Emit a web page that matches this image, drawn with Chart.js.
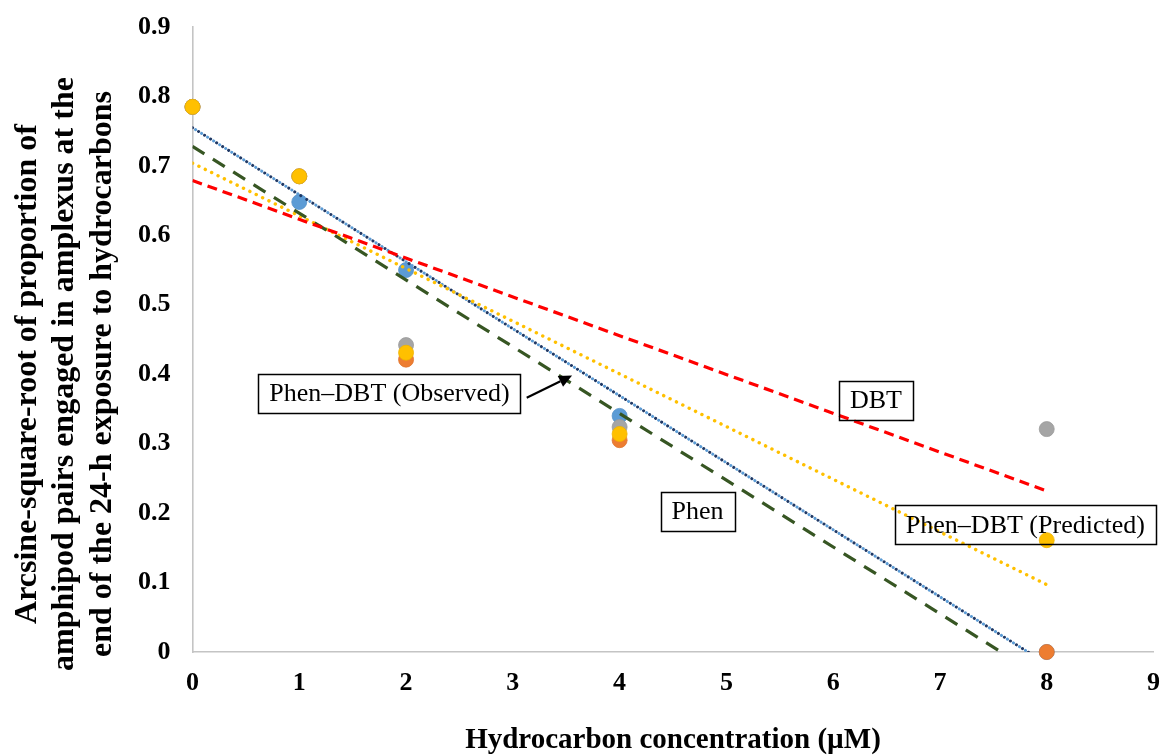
<!DOCTYPE html>
<html>
<head>
<meta charset="utf-8">
<script src="https://cdn.jsdelivr.net/npm/chart.js@4.4.1/dist/chart.umd.min.js"></script>
<style>
  html, body { margin: 0; padding: 0; background: #fff; }
  #wrap { width: 1163px; height: 755px; }
</style>
</head>
<body>
<div id="wrap"><canvas id="chart" width="1163" height="755"></canvas></div>
<script>
const concentrations = [0, 1, 2, 4, 8];
const phenValues = [0.785, 0.648, 0.550, 0.340, 0.000];
const observedValues = [0.785, 0.685, 0.421, 0.305, 0.000];
const dbtValues = [0.785, 0.685, 0.442, 0.324, 0.321];
const predictedValues = [0.785, 0.685, 0.431, 0.314, 0.161];

// linear trend lines, value at each end of the x range
const trendX = [0, 8];
const phenTrend = [0.755, -0.017];
const observedTrend = [0.728, -0.041];
const dbtTrend = [0.679, 0.232];
const predictedTrend = [0.704, 0.097];

const xTicks = [0, 1, 2, 3, 4, 5, 6, 7, 8, 9];
const yTicks = [0, 0.1, 0.2, 0.3, 0.4, 0.5, 0.6, 0.7, 0.8, 0.9];

const yTitleLines = [
  'Arcsine-square-root of proportion of',
  'amphipod pairs engaged in amplexus at the',
  'end of the 24-h exposure to hydrocarbons'
];

const labelBoxes = [
  { text: 'Phen\u2013DBT (Observed)', x: 1.845, y: 0.3725 },
  { text: 'Phen', x: 4.73, y: 0.203 },
  { text: 'DBT', x: 6.40, y: 0.362 },
  { text: 'Phen\u2013DBT (Predicted)', x: 7.80, y: 0.183 }
];
const arrow = { from: [3.13, 0.366], to: [3.555, 0.398] };

const SERIF = '"Liberation Serif", "Times New Roman", serif';

const pairs = (xs, ys) => xs.map((x, i) => ({ x, y: ys[i] }));

function pointSet(label, values, color, edge, order) {
  return {
    type: 'scatter',
    label,
    data: pairs(concentrations, values),
    backgroundColor: color,
    borderColor: edge,
    borderWidth: 0.8,
    pointRadius: 7.5,
    clip: false,
    order
  };
}

function trendSet(label, values, color, width, dash, cap, offset) {
  return {
    type: 'line',
    label,
    data: pairs(trendX, values),
    borderColor: color,
    borderWidth: width,
    borderDash: dash,
    borderDashOffset: offset || 0,
    borderCapStyle: cap,
    pointRadius: 0,
    fill: false,
    order: 0
  };
}

// vertical axis title, three rotated lines
const yTitlePlugin = {
  id: 'yTitle',
  afterDraw(chart) {
    const { ctx } = chart;
    const centers = [27.5, 65, 102.5];
    ctx.save();
    ctx.font = 'bold 32px ' + SERIF;
    ctx.fillStyle = '#000';
    ctx.textAlign = 'center';
    ctx.textBaseline = 'middle';
    yTitleLines.forEach((line, i) => {
      ctx.save();
      ctx.translate(centers[i], 374);
      ctx.rotate(-Math.PI / 2);
      ctx.fillText(line, 0, 0);
      ctx.restore();
    });
    ctx.restore();
  }
};

const boxPlugin = {
  id: 'boxLabels',
  afterDraw(chart) {
    const { ctx, scales: { x, y } } = chart;
    ctx.save();
    ctx.font = '26px ' + SERIF;
    ctx.textAlign = 'center';
    ctx.textBaseline = 'middle';
    ctx.strokeStyle = '#000';
    ctx.fillStyle = '#000';
    ctx.lineWidth = 1.5;
    labelBoxes.forEach((b) => {
      const cx = x.getPixelForValue(b.x);
      const cy = y.getPixelForValue(b.y);
      const w = ctx.measureText(b.text).width + 22;
      const h = 39;
      ctx.strokeRect(Math.round(cx - w / 2) + 0.5, Math.round(cy - h / 2) + 0.5, Math.round(w), h);
      ctx.fillText(b.text, cx, cy + 1);
    });

    // arrow from the observed label to its line
    const x0 = x.getPixelForValue(arrow.from[0]);
    const y0 = y.getPixelForValue(arrow.from[1]);
    const x1 = x.getPixelForValue(arrow.to[0]);
    const y1 = y.getPixelForValue(arrow.to[1]);
    const ang = Math.atan2(y1 - y0, x1 - x0);
    const head = 13;
    const bx = x1 - head * Math.cos(ang);
    const by = y1 - head * Math.sin(ang);
    ctx.lineWidth = 2.2;
    ctx.beginPath();
    ctx.moveTo(x0, y0);
    ctx.lineTo(bx, by);
    ctx.stroke();
    ctx.beginPath();
    ctx.moveTo(x1, y1);
    ctx.lineTo(bx + 6 * Math.sin(ang), by - 6 * Math.cos(ang));
    ctx.lineTo(bx - 6 * Math.sin(ang), by + 6 * Math.cos(ang));
    ctx.closePath();
    ctx.fill();
    ctx.restore();
  }
};

new Chart(document.getElementById('chart'), {
  data: {
    datasets: [
      pointSet('Phen', phenValues, '#5B9BD5', '#5592C9', 4),
      pointSet('Phen\u2013DBT (Observed)', observedValues, '#ED7D31', '#DF752E', 3),
      pointSet('DBT', dbtValues, '#A5A5A5', '#9B9B9B', 2),
      pointSet('Phen\u2013DBT (Predicted)', predictedValues, '#FFC000', '#EFB400', 1),
      trendSet('DBT trend', dbtTrend, '#FF0000', 3.2, [10, 6], 'butt'),
      trendSet('Observed trend', observedTrend, '#375623', 3.2, [14, 10], 'butt'),
      trendSet('Predicted trend', predictedTrend, '#FFC000', 3.4, [0.1, 7], 'round'),
      trendSet('Phen trend', phenTrend, '#5B9BD5', 3, [0.1, 7], 'round', 3.5),
      trendSet('Phen trend dots', phenTrend, '#1F3864', 3, [0.1, 7], 'round')
    ]
  },
  options: {
    responsive: false,
    animation: false,
    layout: { padding: { left: 0, right: 9.5, top: 27, bottom: 0 } },
    plugins: {
      legend: { display: false },
      tooltip: { enabled: false }
    },
    scales: {
      x: {
        type: 'linear',
        min: 0,
        max: 9,
        afterBuildTicks: (scale) => { scale.ticks = xTicks.map((v) => ({ value: v })); },
        afterFit: (scale) => {
          scale.height = 103;
          scale.paddingLeft = 0;
          scale.paddingRight = 0;
        },
        grid: { display: false, drawTicks: false },
        border: { display: true, color: '#C4C4C4', width: 1.6 },
        ticks: {
          padding: 16,
          color: '#000',
          font: { family: SERIF, size: 26, weight: 'bold' },
          callback: (v) => String(v)
        },
        title: {
          display: true,
          text: 'Hydrocarbon concentration (\u00b5M)',
          color: '#000',
          font: { family: SERIF, size: 29, weight: 'bold', lineHeight: 1 },
          padding: { top: 0, bottom: 0 }
        }
      },
      y: {
        type: 'linear',
        min: 0,
        max: 0.9,
        afterBuildTicks: (scale) => { scale.ticks = yTicks.map((v) => ({ value: v })); },
        afterFit: (scale) => {
          scale.width = 192.5;
          scale.paddingTop = 0;
          scale.paddingBottom = 0;
        },
        grid: { display: false, drawTicks: false },
        border: { display: true, color: '#C4C4C4', width: 1.6 },
        ticks: {
          padding: 22,
          color: '#000',
          font: { family: SERIF, size: 26, weight: 'bold' },
          callback: (v) => String(Math.round(v * 10) / 10)
        },
        title: { display: false }
      }
    }
  },
  plugins: [yTitlePlugin, boxPlugin]
});
</script>
</body>
</html>
